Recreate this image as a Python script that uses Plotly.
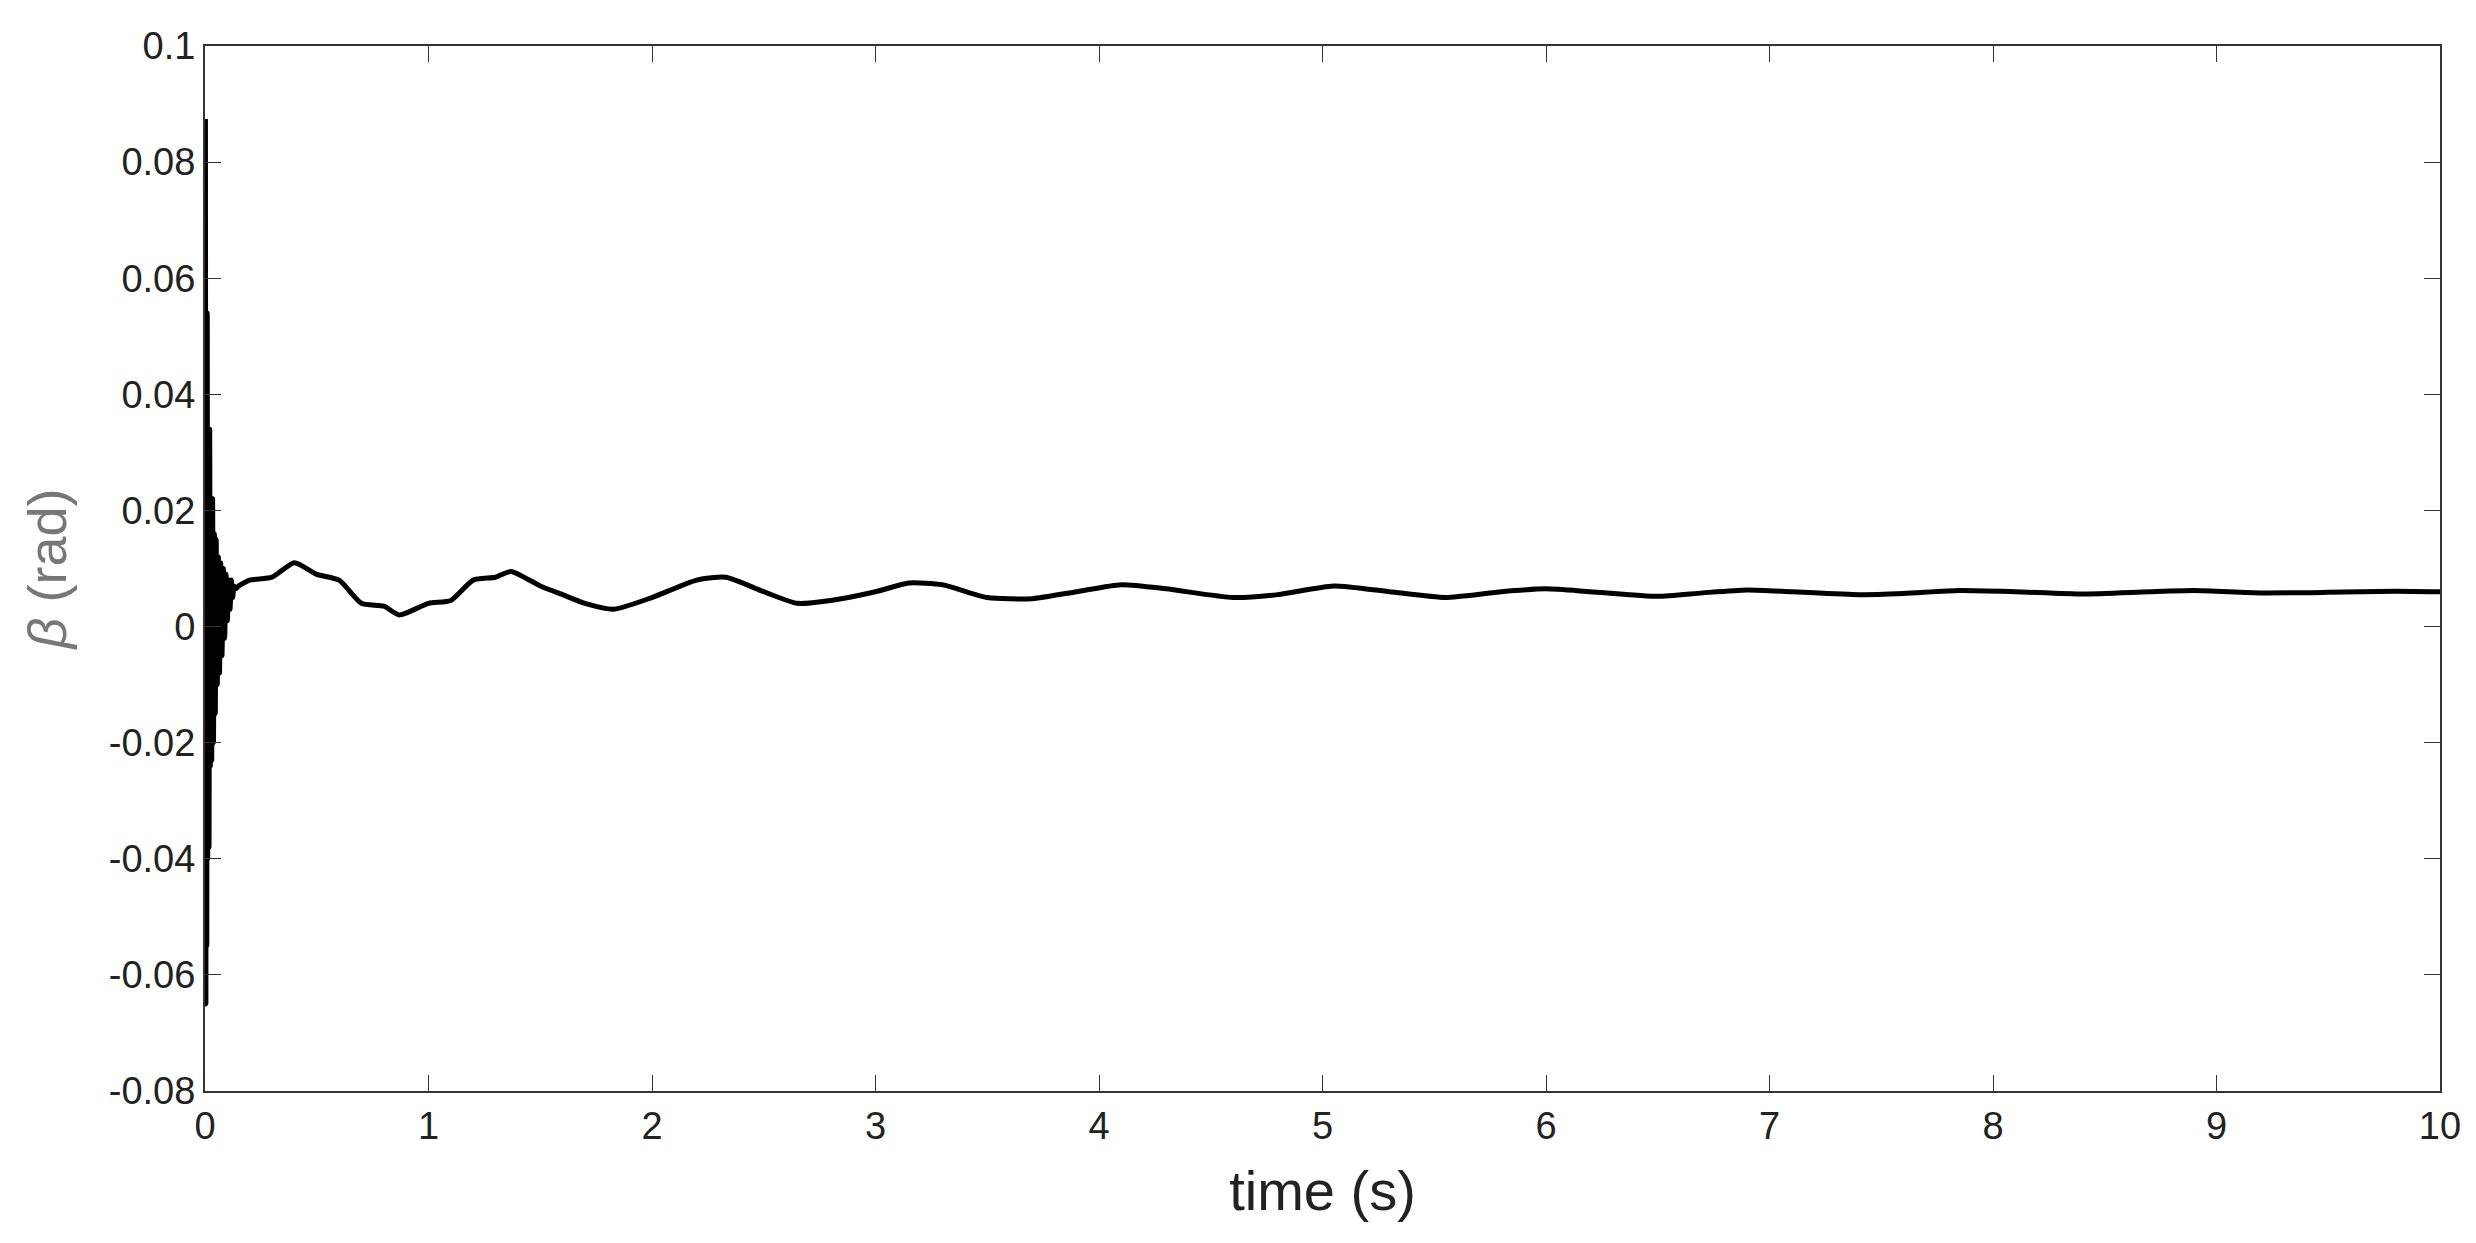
import plotly.graph_objects as go

# fast initial oscillation (alternating peaks read from the envelope)
burst_t = [0.0, 0.002, 0.004, 0.006, 0.008, 0.010, 0.012, 0.015, 0.018, 0.021, 0.024, 0.027,
           0.030, 0.034, 0.038, 0.042, 0.046, 0.050, 0.055, 0.060, 0.065, 0.070, 0.076, 0.082,
           0.088, 0.094, 0.100, 0.106, 0.112, 0.118, 0.124, 0.130, 0.138]
burst_b = [0.0, 0.087, -0.065, 0.054, -0.055, 0.054, -0.040, 0.034, -0.038, 0.034, -0.024, 0.022,
           -0.023, 0.022, -0.020, 0.016, -0.015, 0.015, -0.010, 0.012, -0.008, 0.011, -0.005, 0.010,
           -0.002, 0.009, 0.001, 0.008, 0.003, 0.008, 0.005, 0.007, 0.0065]

# slow settling part
slow_t = [0.15, 0.2, 0.3, 0.4, 0.5, 0.6, 0.7, 0.8, 0.87, 1.0, 1.1, 1.2, 1.3, 1.37, 1.5, 1.6, 1.7,
          1.83, 2.0, 2.2, 2.33, 2.5, 2.65, 2.8, 3.0, 3.15, 3.3, 3.5, 3.7, 3.9, 4.1, 4.3, 4.6, 4.8,
          5.05, 5.3, 5.55, 5.8, 6.0, 6.2, 6.5, 6.7, 6.9, 7.1, 7.4, 7.6, 7.85, 8.1, 8.4, 8.7, 8.9,
          9.2, 9.5, 9.8, 10.0]
slow_b = [0.007, 0.008, 0.0085, 0.011, 0.009, 0.008, 0.004, 0.0035, 0.002, 0.004, 0.0045, 0.008,
          0.0085, 0.0095, 0.007, 0.0055, 0.004, 0.003, 0.005, 0.008, 0.0085, 0.006, 0.004, 0.0045,
          0.006, 0.0075, 0.0072, 0.005, 0.0048, 0.006, 0.0072, 0.0065, 0.005, 0.0055, 0.007, 0.006,
          0.005, 0.006, 0.0065, 0.006, 0.0052, 0.0058, 0.0063, 0.006, 0.0055, 0.0057, 0.0062, 0.006,
          0.0056, 0.006, 0.0062, 0.0058, 0.0059, 0.0061, 0.006]

x_ticks = list(range(0, 11))
y_ticks = [-0.08, -0.06, -0.04, -0.02, 0, 0.02, 0.04, 0.06, 0.08, 0.1]
y_labels = ['-0.08', '-0.06', '-0.04', '-0.02', '0', '0.02', '0.04', '0.06', '0.08', '0.1']

fig = go.Figure()
fig.add_trace(go.Scatter(x=burst_t + slow_t, y=burst_b + slow_b, mode='lines',
                         line=dict(color='black', width=5, shape='spline', smoothing=0.6)))

axis_common = dict(showline=True, linecolor='#333', linewidth=2, mirror='ticks',
                   ticks='inside', ticklen=16, tickcolor='#333', showgrid=False, zeroline=False,
                   tickfont=dict(family='Liberation Sans, Arial', size=38, color='#222'))
fig.update_xaxes(range=[0, 10], tickvals=x_ticks,
                 title=dict(text='time (s)', font=dict(size=56, color='#222'), standoff=25),
                 **axis_common)
fig.update_yaxes(range=[-0.08, 0.1], tickvals=y_ticks, ticktext=y_labels,
                 title=dict(text='<i>β</i> (rad)', font=dict(size=54, color='#777'), standoff=25),
                 **axis_common)
fig.update_layout(width=2476, height=1243, plot_bgcolor='white', paper_bgcolor='white',
                  showlegend=False, margin=dict(l=197, r=44, t=38, b=160),
                  font=dict(family='Liberation Sans, Arial'))
fig.write_html("out.html")
